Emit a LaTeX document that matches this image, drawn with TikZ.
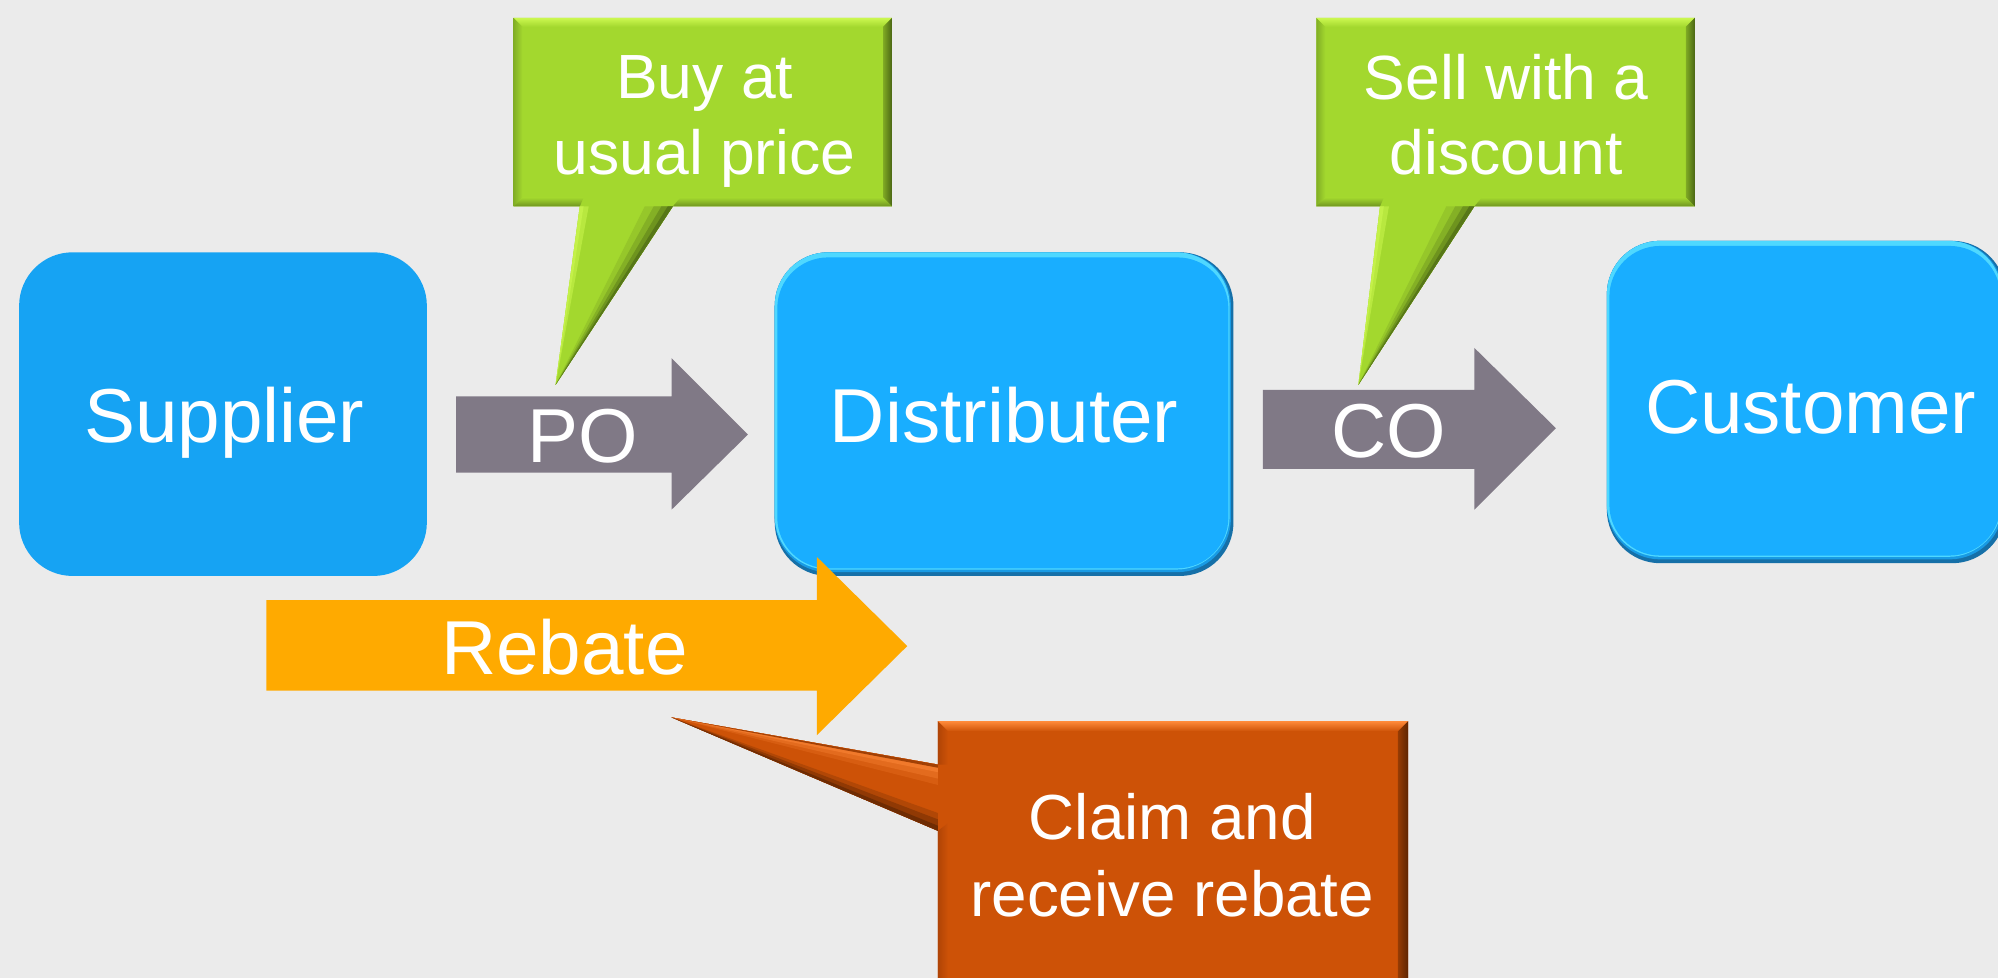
\documentclass[tikz,border=0pt]{standalone}
\usepackage{fontspec}
\setmainfont{Liberation Sans}
\definecolor{bg}{HTML}{EBEBEB}
\definecolor{supblue}{HTML}{16A3F3}
\definecolor{boxblue}{HTML}{19AEFF}
\definecolor{boxlight}{HTML}{4FD8FF}
\definecolor{boxdark}{HTML}{1670A8}
\definecolor{arrgray}{HTML}{807986}
\definecolor{rebor}{HTML}{FFAA00}
\definecolor{grn}{HTML}{A3D82E}
\definecolor{grnlight}{HTML}{CCF850}
\definecolor{grnmid}{HTML}{6F9420}
\definecolor{grnleft}{HTML}{8FC02A}
\definecolor{grndark}{HTML}{4A6614}
\definecolor{org}{HTML}{CD5207}
\definecolor{orglight}{HTML}{FF8A3A}
\definecolor{orgleft}{HTML}{B04406}
\definecolor{orgdark}{HTML}{5E2502}
\begin{document}
\begin{tikzpicture}[x=1pt,y=-1pt,
  lbl/.style={text=white, inner sep=0pt, anchor=base, font=\fontsize{60}{72}\selectfont},
  clbl/.style={text=white, inner sep=0pt, anchor=base, font=\fontsize{49}{59}\selectfont},
  olbl/.style={text=white, inner sep=0pt, anchor=base, font=\fontsize{50}{60}\selectfont}]
\useasboundingbox (0,0) rectangle (1568,767.5);
\clip (0,0) rectangle (1568,767.5);
\fill[bg] (0,0) rectangle (1568,767.5);

% Supplier (flat)
\fill[supblue, rounded corners=42pt] (15,198) rectangle (335,452);
\node[lbl] (supplier) at (176,347) {Supplier};

% PO arrow
\fill[arrgray] (358,311) -- (527,311) -- (527,281) -- (587,341) -- (527,400) -- (527,371) -- (358,371) -- cycle;
\node[lbl] (po) at (457,363) {PO};

% Distributer (bevel)
\fill[boxdark, rounded corners=42pt] (608,198) rectangle (968,452);
\fill[boxblue!70!boxdark, rounded corners=42pt] (608,198) rectangle (966,449);
\fill[boxlight, rounded corners=42pt] (608,198) rectangle (965,447);
\fill[boxblue, rounded corners=40pt] (610,202) rectangle (964,446);
\node[lbl] (distributer) at (788,347) {Distributer};

% CO arrow
\fill[arrgray] (991,306) -- (1157,306) -- (1157,273) -- (1221,336) -- (1157,400) -- (1157,368) -- (991,368) -- cycle;
\node[lbl] (co) at (1090,359) {CO};

% Customer (bevel)
\fill[boxdark, rounded corners=42pt] (1261,189) rectangle (1574,442);
\fill[boxblue!70!boxdark, rounded corners=42pt] (1261,189) rectangle (1572,439);
\fill[boxlight, rounded corners=42pt] (1261,189) rectangle (1571,437);
\fill[boxblue, rounded corners=40pt] (1263,193) rectangle (1570,436);
\node[lbl] (customer) at (1421,340) {Customer};

% Rebate arrow
\fill[rebor] (209,471) -- (641,471) -- (641,437) -- (712,507) -- (641,577) -- (641,542) -- (209,542) -- cycle;
\node[lbl] (rebate) at (443,529) {Rebate};

% Callout: Buy at usual price
\fill[grn] (403,14) -- (700,14) -- (700,162) -- (528,162) -- (436,302) -- (455,162) -- (403,162) -- cycle;
\shade[top color=grnlight, bottom color=grn] (403,14) -- (700,14) -- (693,21) -- (410,21) -- cycle;
\shade[left color=grn!60!grndark, right color=grndark] (700,14) -- (700,162) -- (693,155) -- (693,21) -- cycle;
\shade[left color=grnleft!80!grndark, right color=grn] (403,14) -- (410,21) -- (410,155) -- (403,162) -- cycle;
\shade[top color=grn, bottom color=grnmid] (403,162) -- (455,162) -- (458,155) -- (410,155) -- cycle;
\shade[top color=grn, bottom color=grnmid] (528,162) -- (700,162) -- (693,155) -- (534,155) -- cycle;
\foreach \w/\c in {22/85, 15/65, 9/40, 4/15}
  \fill[grn!\c!grndark] (528,162) -- (436,302) -- (528-\w,162) -- cycle;
\foreach \w/\c in {7/50, 3/20}
  \fill[grn!\c!grnlight] (455,162) -- (436,302) -- (455+\w,162) -- cycle;
\node[clbl] (buy1) at (553,77) {Buy at};
\node[clbl] (buy2) at (553,137) {usual price};

% Callout: Sell with a discount
\fill[grn] (1033,14) -- (1330,14) -- (1330,162) -- (1157,162) -- (1066,302) -- (1083,162) -- (1033,162) -- cycle;
\shade[top color=grnlight, bottom color=grn] (1033,14) -- (1330,14) -- (1323,21) -- (1040,21) -- cycle;
\shade[left color=grn!60!grndark, right color=grndark] (1330,14) -- (1330,162) -- (1323,155) -- (1323,21) -- cycle;
\shade[left color=grnleft!80!grndark, right color=grn] (1033,14) -- (1040,21) -- (1040,155) -- (1033,162) -- cycle;
\shade[top color=grn, bottom color=grnmid] (1033,162) -- (1083,162) -- (1086,155) -- (1040,155) -- cycle;
\shade[top color=grn, bottom color=grnmid] (1157,162) -- (1330,162) -- (1323,155) -- (1163,155) -- cycle;
\foreach \w/\c in {22/85, 15/65, 9/40, 4/15}
  \fill[grn!\c!grndark] (1157,162) -- (1066,302) -- (1157-\w,162) -- cycle;
\foreach \w/\c in {7/50, 3/20}
  \fill[grn!\c!grnlight] (1083,162) -- (1066,302) -- (1083+\w,162) -- cycle;
\node[clbl] (sell1) at (1182,78) {Sell with a};
\node[clbl] (sell2) at (1182,137) {discount};

% Callout: Claim and receive rebate
\fill[org] (736,566) -- (1105,566) -- (1105,780) -- (736,780) -- (736,652) -- (527,563) -- (736,600) -- cycle;
\shade[top color=orglight, bottom color=org] (736,566) -- (1105,566) -- (1097,574) -- (744,574) -- cycle;
\shade[left color=org!50!orgdark, right color=orgdark] (1105,566) -- (1105,780) -- (1097,780) -- (1097,574) -- cycle;
\shade[left color=orgleft, right color=org] (736,566) -- (744,574) -- (744,600) -- (736,600) -- cycle;
\shade[left color=orgleft, right color=org] (736,652) -- (744,646) -- (744,780) -- (736,780) -- cycle;
\foreach \w/\c in {16/80, 11/55, 6/30}
  \fill[org!\c!orglight] (527,563) -- (736,600) -- (736,600+\w) -- cycle;
\fill[org!60!orgdark] (527,563) -- (736,600) -- (736,602.5) -- cycle;
\foreach \w/\c in {14/75, 9/45, 4/15}
  \fill[org!\c!orgdark] (527,563) -- (736,652) -- (736,652-\w) -- cycle;
\node[olbl] (claim1) at (920,659) {Claim and};
\node[olbl] (claim2) at (920,719) {receive rebate};
\end{tikzpicture}
\end{document}
